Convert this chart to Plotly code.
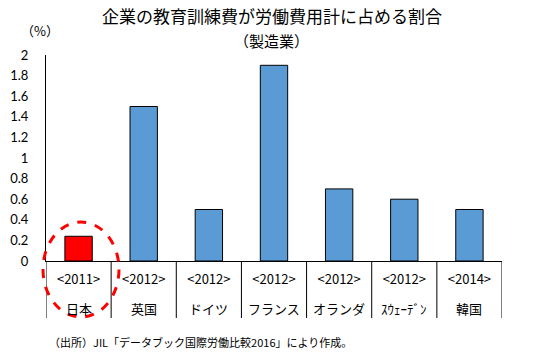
import plotly.graph_objects as go

countries = ["日本", "英国", "ドイツ", "フランス", "オランダ", "ｽｳｪｰﾃﾞﾝ", "韓国"]
years = ["<2011>", "<2012>", "<2012>", "<2012>", "<2012>", "<2012>", "<2014>"]
values = [0.24, 1.5, 0.5, 1.9, 0.7, 0.6, 0.5]
colors = ["#FF0000", "#5B9BD5", "#5B9BD5", "#5B9BD5", "#5B9BD5", "#5B9BD5", "#5B9BD5"]
y_ticks = [0, 0.2, 0.4, 0.6, 0.8, 1, 1.2, 1.4, 1.6, 1.8, 2]

JP = "Noto Sans CJK JP"
PH = 206  # plot height px
PW = 456  # plot width px

fig = go.Figure(go.Bar(
    x=countries,
    y=values,
    marker=dict(color=colors, line=dict(color="#000000", width=1)),
    width=0.42,
))

annotations = [
    dict(text="企業の教育訓練費が労働費用計に占める割合", xref="paper", yref="paper",
         x=(272 - 46) / PW, y=(261 - 15) / PH, showarrow=False,
         font=dict(family=JP, size=17, color="#000000"), xanchor="center", yanchor="middle"),
    dict(text="（製造業）", xref="paper", yref="paper",
         x=(271 - 46) / PW, y=(261 - 40) / PH, showarrow=False,
         font=dict(family=JP, size=15, color="#000000"), xanchor="center", yanchor="middle"),
    dict(text="（%）", xref="paper", yref="paper",
         x=(40 - 46) / PW, y=(261 - 30) / PH, showarrow=False,
         font=dict(family=JP, size=13, color="#000000"), xanchor="center", yanchor="middle"),
    dict(text="（出所）JIL「データブック国際労働比較2016」により作成。", xref="paper", yref="paper",
         x=(47 - 46) / PW, y=(261 - 342) / PH, showarrow=False,
         font=dict(family=JP, size=11, color="#000000"), xanchor="left", yanchor="middle"),
]
for c in countries:
    annotations.append(dict(text=c, xref="x", yref="paper", x=c, y=-47 / PH,
                            showarrow=False, xanchor="center", yanchor="middle",
                            font=dict(family=JP, size=13, color="#000000")))

shapes = [
    dict(type="line", xref="x", yref="paper", x0=i - 0.5, x1=i - 0.5, y0=0, y1=-57 / PH,
         line=dict(color="#000000", width=1))
    for i in range(len(countries) + 1)
]
shapes.append(dict(type="circle", xref="paper", yref="paper",
                   x0=(43 - 46) / PW, x1=(119 - 46) / PW,
                   y0=(261 - 317) / PH, y1=(261 - 222) / PH,
                   line=dict(color="#FF0000", width=3, dash="dash")))

fig.update_layout(
    width=550, height=358,
    margin=dict(l=46, r=48, t=55, b=97),
    paper_bgcolor="white", plot_bgcolor="white",
    showlegend=False,
    font=dict(family=JP, color="#000000", size=12),
    xaxis=dict(
        type="category", automargin=False,
        tickvals=countries, ticktext=years,
        showline=True, linecolor="#000000", linewidth=1,
        ticks="", showgrid=False, ticklabelstandoff=6,
        tickfont=dict(family=JP, size=13, color="#000000"),
        range=[-0.5, len(countries) - 0.5],
    ),
    yaxis=dict(
        range=[0, 2], tickvals=y_ticks, automargin=False,
        ticktext=[f"{v:g}" for v in y_ticks],
        showline=True, linecolor="#000000", linewidth=1,
        showgrid=False, zeroline=False, ticks="",
        tickfont=dict(family="Lato", size=13, color="#000000"),
        ticklabelstandoff=14,
    ),
    annotations=annotations,
    shapes=shapes,
)

fig.write_html("out.html", config={"displayModeBar": False},
               post_script="document.body.style.margin='0';")
